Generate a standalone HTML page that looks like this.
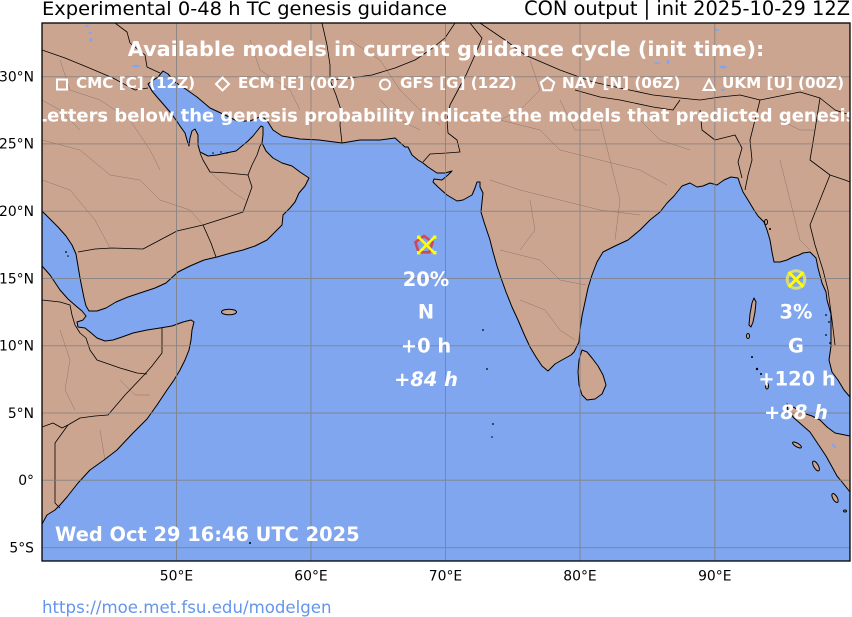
<!DOCTYPE html>
<html><head><meta charset="utf-8"><style>
html,body{margin:0;padding:0;background:#fff;}
svg{display:block;}
text{font-family:"DejaVu Sans","Liberation Sans",sans-serif;}
</style></head><body>
<svg width="852" height="617" viewBox="0 0 852 617" xmlns="http://www.w3.org/2000/svg">
<defs><clipPath id="ax"><rect x="42" y="23" width="808" height="538"/></clipPath></defs>
<rect x="0" y="0" width="852" height="617" fill="#fff"/>
<g clip-path="url(#ax)">
<rect x="42" y="23" width="808" height="538" fill="#7fa6ee"/>
<g fill="#cca591" stroke="none">
<path d="M42,23 L850,23 L850,397 L844,390 L838,380 L832,372 L829,360 L831,346 L831,330 L831,314 L827,300 L826,292 L822,283 L818,268 L816,258 L810,252 L803,253 L799,255 L793,257 L787,260 L780,262 L774,262 L772,252 L770,240 L767,230 L764,222 L758,216 L754,210 L748,200 L743,192 L740,184 L738,178 L731,177 L724,180 L717,185 L710,183 L703,186 L697,187 L690,183 L682,186 L674,196 L667,203 L660,212 L650,220 L640,230 L628,240 L615,246 L603,252 L597,262 L592,275 L588,288 L585,302 L582,316 L580,330 L579,342 L574,352 L571,355 L562,360 L555,364 L548,371 L542,366 L536,357 L530,347 L524,334 L518,320 L512,307 L506,292 L501,278 L497,266 L493,252 L490,240 L487,231 L484,222 L481,212 L482,202 L483,193 L480,187 L480,182 L477,182 L475,188 L472,195 L463,200 L457,201 L447,195 L438,187 L433,182 L434,179 L442,180 L448,175 L452,171 L445,173 L437,173 L428,167 L423,163 L418,160 L412,155 L408,147 L405,147 L395,138 L380,140 L360,140 L342,143 L319,140 L300,139 L282,136 L309,178 L305,186 L299,193 L295,202 L290,208 L283,215 L282,225 L274,233 L267,240 L255,246 L243,250 L231,253 L217,257 L204,260 L190,266 L178,272 L166,283 L155,288 L143,292 L128,297 L116,302 L106,308 L97,311 L89,311 L42,311 Z"/>
<path d="M42,266 L50,275 L60,290 L68,299 L76,306 L82,311 L86,316 L83,320 L77,322 L78,327 L85,328 L90,332 L97,338 L105,341 L113,340 L122,337 L133,333 L147,330 L160,328 L172,326 L183,322 L191,320 L194,322 L192,330 L191,340 L189,350 L185,360 L180,370 L174,380 L167,390 L157,405 L147,419 L132,434 L117,450 L104,460 L90,470 L78,483 L67,497 L60,505 L55,510 L47,515 L42,524 Z"/>
</g>
<g fill="#7fa6ee" stroke="none">
<path d="M282,136 L273,130 L268,122 L262,116 L250,121 L237,121 L225,115 L210,108 L197,97 L187,90 L175,82 L168,74 L163,71 L158,77 L152,81 L148,84 L152,91 L157,97 L164,105 L170,112 L176,120 L180,126 L185,133 L187,140 L189,146 L190,138 L192,131 L195,129 L198,135 L198,145 L200,152 L208,156 L217,155 L226,153 L236,151 L242,146 L248,141 L253,136 L257,131 L261,126 L263,127 L263,135 L262,143 L266,151 L273,158 L282,163 L292,166 L300,172 L309,178 Z"/>
<path d="M42,211 L50,219 L58,227 L66,236 L72,245 L76,254 L78,266 L80,278 L82,288 L84,298 L86,306 L89,311 L86,316 L82,311 L76,306 L68,299 L60,290 L50,275 L42,266 Z"/>
</g>
<g fill="none" stroke="#6f6258" stroke-width="0.5" opacity="0.7">
<path d="M42,140 L80,150 L110,175 L140,180 L160,200 L190,210 L203,225"/>
<path d="M42,180 L70,190 L95,220 L110,248"/>
<path d="M60,60 L70,90 L100,100 L130,120 L150,150 L160,170"/>
<path d="M42,100 L60,110 L80,130"/>
<path d="M210,172 L230,190 L245,200"/>
<path d="M500,120 L540,130 L560,150 L600,160 L640,170 L667,185"/>
<path d="M490,180 L520,190 L560,200 L600,210 L640,215"/>
<path d="M500,250 L540,260 L560,280 L586,285"/>
<path d="M520,300 L545,310 L560,330 L575,340"/>
<path d="M600,120 L610,160 L620,200 L615,240"/>
<path d="M530,60 L540,90 L520,110 L500,120"/>
<path d="M560,100 L575,130 L600,130"/>
<path d="M640,120 L660,140 L690,150"/>
<path d="M530,200 L535,230 L520,250"/>
<path d="M780,160 L790,200 L800,240 L810,250"/>
<path d="M780,120 L800,130 L815,130"/>
<path d="M250,40 L260,70 L290,90 L300,110"/>
<path d="M350,40 L380,60 L400,90 L420,110 L440,125"/>
<path d="M380,100 L400,120 L420,130"/>
<path d="M60,330 L70,360 L65,390 L75,410"/>
<path d="M100,430 L105,460"/>
<path d="M120,380 L135,395 L150,395"/>
</g>
<g fill="none" stroke="#000" stroke-width="1" stroke-linejoin="round">
<path d="M850,397 L844,390 L838,380 L832,372 L829,360 L831,346 L831,330 L831,314 L827,300 L826,292 L822,283 L818,268 L816,258 L810,252 L803,253 L799,255 L793,257 L787,260 L780,262 L774,262 L772,252 L770,240 L767,230 L764,222 L758,216 L754,210 L748,200 L743,192 L740,184 L738,178 L731,177 L724,180 L717,185 L710,183 L703,186 L697,187 L690,183 L682,186 L674,196 L667,203 L660,212 L650,220 L640,230 L628,240 L615,246 L603,252 L597,262 L592,275 L588,288 L585,302 L582,316 L580,330 L579,342 L574,352 L571,355 L562,360 L555,364 L548,371 L542,366 L536,357 L530,347 L524,334 L518,320 L512,307 L506,292 L501,278 L497,266 L493,252 L490,240 L487,231 L484,222 L481,212 L482,202 L483,193 L480,187 L480,182 L477,182 L475,188 L472,195 L463,200 L457,201 L447,195 L438,187 L433,182 L434,179 L442,180 L448,175 L452,171 L445,173 L437,173 L428,167 L423,163 L418,160 L412,155 L408,147 L405,147 L395,138 L380,140 L360,140 L342,143 L319,140 L300,139 L282,136 L273,130 L268,122 L262,116 L250,121 L237,121 L225,115 L210,108 L197,97 L187,90 L175,82 L168,74 L163,71 L158,77 L152,81 L148,84 L152,91 L157,97 L164,105 L170,112 L176,120 L180,126 L185,133 L187,140 L189,146 L190,138 L192,131 L195,129 L198,135 L198,145 L200,152 L208,156 L217,155 L226,153 L236,151 L242,146 L248,141 L253,136 L257,131 L261,126 L263,127 L263,135 L262,143 L266,151 L273,158 L282,163 L292,166 L300,172 L309,178 L305,186 L299,193 L295,202 L290,208 L283,215 L282,225 L274,233 L267,240 L255,246 L243,250 L231,253 L217,257 L204,260 L190,266 L178,272 L166,283 L155,288 L143,292 L128,297 L116,302 L106,308 L97,311 L89,311 L86,306 L84,298 L82,288 L80,278 L78,266 L76,254 L72,245 L66,236 L58,227 L50,219 L42,211"/>
<path d="M42,266 L50,275 L60,290 L68,299 L76,306 L82,311 L86,316 L83,320 L77,322 L78,327 L85,328 L90,332 L97,338 L105,341 L113,340 L122,337 L133,333 L147,330 L160,328 L172,326 L183,322 L191,320 L194,322 L192,330 L191,340 L189,350 L185,360 L180,370 L174,380 L167,390 L157,405 L147,419 L132,434 L117,450 L104,460 L90,470 L78,483 L67,497 L60,505 L55,510 L47,515 L42,524"/>
</g>
<g fill="#cca591" stroke="#000" stroke-width="1" stroke-linejoin="round">
<path d="M582,350 L587,352 L592,358 L598,366 L603,375 L606,385 L602,394 L595,399 L587,400 L582,395 L579,385 L578,372 L579,360 Z"/>
<path d="M787,404 L795,408 L803,413 L812,416 L820,420 L827,427 L835,433 L850,436 L850,492 L842,482 L837,476 L831,465 L826,456 L818,444 L810,432 L802,425 L794,418 L788,411 Z"/>
<path d="M754,298 L756,302 L755,312 L753,322 L751,327 L749,325 L750,314 L752,303 Z"/>
<ellipse cx="229" cy="312" rx="7.5" ry="2.8"/>
<ellipse cx="748" cy="336" rx="1.5" ry="2.5"/>
<ellipse cx="767" cy="386" rx="1.5" ry="3"/>
<ellipse cx="797" cy="445" rx="5" ry="1.8" transform="rotate(30 797 445)"/>
<ellipse cx="816" cy="466" rx="2.3" ry="5.5" transform="rotate(-30 816 466)"/>
<ellipse cx="835" cy="498" rx="2.2" ry="5" transform="rotate(-30 835 498)"/>
<ellipse cx="845" cy="511" rx="1.5" ry="1"/>
<ellipse cx="766" cy="222" rx="1.5" ry="2.5"/>
</g>
<g fill="#000">
<circle cx="752" cy="357" r="1"/><circle cx="757" cy="369" r="1.2"/><circle cx="761" cy="374" r="1"/>
<circle cx="483" cy="330" r="0.9"/><circle cx="487" cy="369" r="0.9"/><circle cx="493" cy="424" r="0.9"/><circle cx="492" cy="437" r="0.8"/>
<circle cx="826" cy="315" r="0.9"/><circle cx="829" cy="322" r="0.9"/><circle cx="826" cy="335" r="0.9"/><circle cx="830" cy="343" r="0.9"/>
<circle cx="250" cy="543" r="1"/><circle cx="213" cy="153" r="0.8"/><circle cx="221" cy="152" r="0.8"/><circle cx="227" cy="153" r="0.8"/>
<circle cx="770" cy="229" r="1"/><circle cx="66" cy="252" r="0.9"/><circle cx="68" cy="256" r="0.8"/>
</g>
<g fill="#7fa6ee">
<ellipse cx="834" cy="446" rx="3" ry="1.3" transform="rotate(40 834 446)"/>
<ellipse cx="87" cy="26" rx="2" ry="1"/><ellipse cx="90" cy="33" rx="1.5" ry="1"/><ellipse cx="91" cy="40" rx="1.5" ry="2"/>
<ellipse cx="136" cy="66" rx="4" ry="1.2"/>
<ellipse cx="620" cy="55" rx="2" ry="1"/><ellipse cx="657" cy="63" rx="3" ry="1"/><ellipse cx="668" cy="62" rx="1.5" ry="2"/>
<ellipse cx="723" cy="67" rx="4" ry="1.5"/><ellipse cx="723" cy="90" rx="2" ry="1"/><ellipse cx="717" cy="30" rx="2" ry="1"/><ellipse cx="703" cy="53" rx="1.5" ry="1"/>
</g>
<g fill="none" stroke="#000" stroke-width="0.8" stroke-linejoin="round">
<path d="M78,252 L95,249 L112,248 L143,249 L160,240 L177,231 L203,225 L225,218 L243,212 L252,187 L248,175 L228,173 L210,172 L203,160 L200,153"/>
<path d="M203,225 L211,243 L216,257"/>
<path d="M248,175 L252,165 L257,155 L260,146 L262,143"/>
<path d="M42,50 L65,58 L87,67 L113,78 L135,90 L148,88"/>
<path d="M115,23 L127,32 L130,43 L145,55 L147,67 L160,73"/>
<path d="M322,23 L327,45 L330,65 L330,80 L336,95 L341,110 L340,125 L342,143"/>
<path d="M330,80 L350,78 L372,75 L395,68 L415,60 L430,50 L445,38 L455,23"/>
<path d="M470,23 L482,38 L475,55 L466,75 L458,90 L450,105 L447,120 L448,133 L457,140 L460,152 L447,153 L430,154 L423,162"/>
<path d="M480,23 L505,40 L525,55 L560,70 L593,82 L620,88 L653,95 L680,98 L700,100 L720,97 L740,95 L760,100 L780,96 L800,92 L820,98 L835,110 L850,115"/>
<path d="M575,90 L600,97 L620,100 L653,107 L673,110 L680,100"/>
<path d="M700,110 L702,130 L715,140 L735,135 L742,148 L738,162 L742,178"/>
<path d="M760,100 L755,120 L750,140 L752,160 L748,175 L745,190"/>
<path d="M820,98 L815,130 L810,160 L830,175 L845,180 L850,182"/>
<path d="M830,175 L820,200 L810,225 L815,245 L823,270 L828,290 L832,320 L835,345"/>
<path d="M162,328 L162,353 L152,366 L145,374 L125,395 L108,415 L95,416 L80,418 L68,425 L55,443 L55,503 L60,508"/>
<path d="M86,338 L90,350 L97,360 L120,368 L137,373 L147,374"/>
<path d="M42,427 L53,423 L62,428 L68,425"/>
<path d="M42,300 L60,302 L70,305 L72,315 L75,325 L80,333 L86,338"/>
</g>
<g stroke="#808080" stroke-width="1" opacity="0.8">
<line x1="176.5" y1="23" x2="176.5" y2="561"/><line x1="311" y1="23" x2="311" y2="561"/><line x1="445.5" y1="23" x2="445.5" y2="561"/><line x1="580" y1="23" x2="580" y2="561"/><line x1="714.8" y1="23" x2="714.8" y2="561"/>
<line x1="42" y1="76.8" x2="850" y2="76.8"/><line x1="42" y1="143.9" x2="850" y2="143.9"/><line x1="42" y1="211.3" x2="850" y2="211.3"/><line x1="42" y1="278.5" x2="850" y2="278.5"/><line x1="42" y1="345.8" x2="850" y2="345.8"/><line x1="42" y1="413" x2="850" y2="413"/><line x1="42" y1="480.3" x2="850" y2="480.3"/><line x1="42" y1="547.6" x2="850" y2="547.6"/>
</g>
<g fill="#fff" font-weight="bold">
<text x="446" y="56" font-size="20.8" text-anchor="middle">Available models in current guidance cycle (init time):</text>
<text x="76" y="88" font-size="15.2">CMC [C] (12Z)</text>
<text x="238" y="88" font-size="15.2">ECM [E] (00Z)</text>
<text x="400" y="88" font-size="15.2">GFS [G] (12Z)</text>
<text x="562" y="88" font-size="15.2">NAV [N] (06Z)</text>
<text x="722" y="88" font-size="15.2">UKM [U] (00Z)</text>
<text x="446" y="121.5" font-size="17.95" text-anchor="middle">Letters below the genesis probability indicate the models that predicted genesis</text>
<text x="55" y="541" font-size="19.4">Wed Oct 29 16:46 UTC 2025</text>
<g font-size="19.4" text-anchor="middle">
<text x="426" y="286">20%</text>
<text x="426" y="318.5">N</text>
<text x="426" y="352.3">+0 h</text>
<text x="426" y="386" font-style="italic">+84 h</text>
<text x="796" y="318.5">3%</text>
<text x="796" y="352.3">G</text>
<text x="797" y="385.7">+120 h</text>
<text x="796" y="419" font-style="italic">+88 h</text>
</g>
</g>
<g fill="none" stroke="#fff" stroke-width="2">
<rect x="57" y="79.5" width="10" height="10"/>
<polygon points="222.5,77.5 229,84 222.5,90.5 216,84"/>
<circle cx="385" cy="84.5" r="5"/>
<polygon points="547.5,77.5 554.2,82.4 551.6,90.3 543.4,90.3 540.8,82.4"/>
<polygon points="709,79.5 714.5,90 703.5,90"/>
</g>
<polygon points="424,236 432.6,242.2 429.3,252.3 418.7,252.3 415.4,242.2" fill="none" stroke="#d2465a" stroke-width="2.6" stroke-linejoin="miter"/>
<g stroke="#ffff00" stroke-width="2.6">
<line x1="419" y1="237.5" x2="434" y2="252.5"/><line x1="434" y1="237.5" x2="419" y2="252.5"/>
</g>
<g fill="#ffff00"><rect x="417" y="235.5" width="3.4" height="3.4"/><rect x="433" y="235.5" width="3.4" height="3.4"/><rect x="417" y="251" width="3.4" height="3.4"/><rect x="433" y="251" width="3.4" height="3.4"/></g>
<circle cx="796" cy="279.5" r="8.8" fill="none" stroke="#d6dc7a" stroke-width="3"/>
<g stroke="#ffff00" stroke-width="2.8">
<line x1="788.5" y1="272" x2="803.5" y2="287"/><line x1="803.5" y1="272" x2="788.5" y2="287"/>
</g>
</g>
<rect x="42" y="23" width="808" height="538" fill="none" stroke="#000" stroke-width="1.3"/>
<g fill="#000">
<text x="42" y="15" font-size="19" textLength="405" lengthAdjust="spacingAndGlyphs">Experimental 0-48 h TC genesis guidance</text>
<text x="850" y="15" font-size="19.4" text-anchor="end">CON output | init 2025-10-29 12Z</text>
<g font-size="13.9" text-anchor="end">
<text x="34" y="81.6">30°N</text><text x="34" y="148.7">25°N</text><text x="34" y="216.1">20°N</text><text x="34" y="283.3">15°N</text><text x="34" y="350.6">10°N</text><text x="34" y="417.8">5°N</text><text x="34" y="485.1">0°</text><text x="34" y="552.4">5°S</text>
</g>
<g font-size="13.9" text-anchor="middle">
<text x="176.5" y="580.5">50°E</text><text x="311" y="580.5">60°E</text><text x="445.5" y="580.5">70°E</text><text x="580" y="580.5">80°E</text><text x="714.8" y="580.5">90°E</text>
</g>
</g>
<text x="42" y="613" font-size="16.6" fill="#6495ed">https://moe.met.fsu.edu/modelgen</text>
</svg>
</body></html>
